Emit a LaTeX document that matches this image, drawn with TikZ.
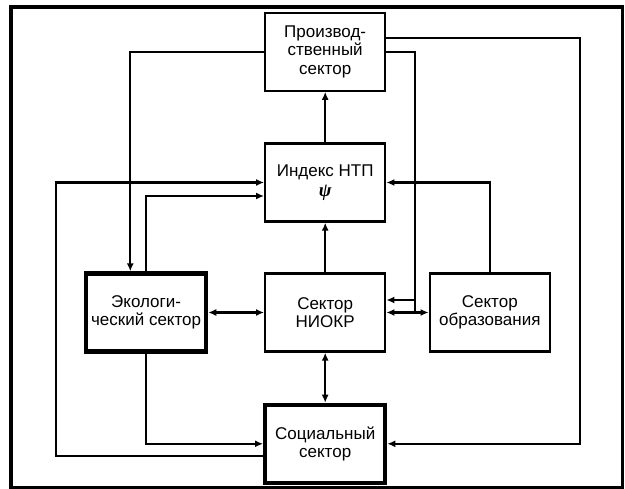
\documentclass[tikz,border=0pt]{standalone}
\usepackage{fontspec}
\setmainfont{Liberation Sans}
\newfontfamily\psifont{Liberation Serif}
\usetikzlibrary{arrows.meta}
\tikzset{
  box/.style={draw, line width=2.3pt, minimum width=120pt, minimum height=78pt, align=center, inner sep=0pt, font=\fontsize{17}{18.5}\selectfont},
  thickbox/.style={box, line width=4.3pt},
  arr/.style={line width=2.3pt, -{Latex[length=8pt,width=7pt]}},
  darr/.style={line width=2.3pt, {Latex[length=8pt,width=7pt]}-{Latex[length=8pt,width=7pt]}},
  hop/.style={fill=black, draw=none}
}
\begin{document}
\begin{tikzpicture}[x=1pt,y=-1pt]
\useasboundingbox (0,0) rectangle (625,489);
\draw[line width=3.5pt] (11,7) rectangle (622.5,487.5);

\node[box] (prod) at (325.2,51.7) {Производ-\\ственный\\сектор};
\node[box] (index) at (325.2,182.5) {Индекс НТП\\[1pt]{\psifont\fontsize{19}{19}\selectfont\bfseries\itshape ψ}};
\node[thickbox] (eco) at (146.1,312.5) {Экологи-\\ческий сектор};
\node[box] (niokr) at (325.2,312.5) {Сектор\\НИОКР};
\node[box] (edu) at (489.8,312.5) {Сектор\\образования};
\node[thickbox] (soc) at (325.2,443.8) {Социальный\\сектор};

\coordinate (lx) at (55.8,0);
\coordinate (rx) at (415.3,0);
\coordinate (rx2) at (580,0);
\coordinate (ex) at (130.3,0);

\draw[arr] (index) -- (prod);
\draw[arr] (niokr) -- (index);
\draw[darr] (niokr) -- (soc);
\draw[darr] (eco) -- (niokr);
\draw[darr] (niokr) -- (edu);

\draw[arr] (prod.west) -| ([xshift=-15.8pt]eco.north);
\draw[arr] ([yshift=-12.5pt]soc.west) -| (lx |- index.west) -- (index.west);
\draw[arr] (eco.north) |- ([yshift=-13.5pt]index.west);
\draw[arr] (eco.south) |- (soc.west);
\draw[arr] (prod.east) -| (rx |- niokr.east) |- ([yshift=12.5pt]niokr.east);
\draw[arr] ([yshift=13.4pt]prod.east) -| (rx2 |- soc.east) -- (soc.east);
\draw[arr] (edu.north) |- (index.east);

\fill[hop] (ex |- index.west) circle (2pt);
\fill[hop] (rx |- index.east) circle (2pt);
\end{tikzpicture}
\end{document}
